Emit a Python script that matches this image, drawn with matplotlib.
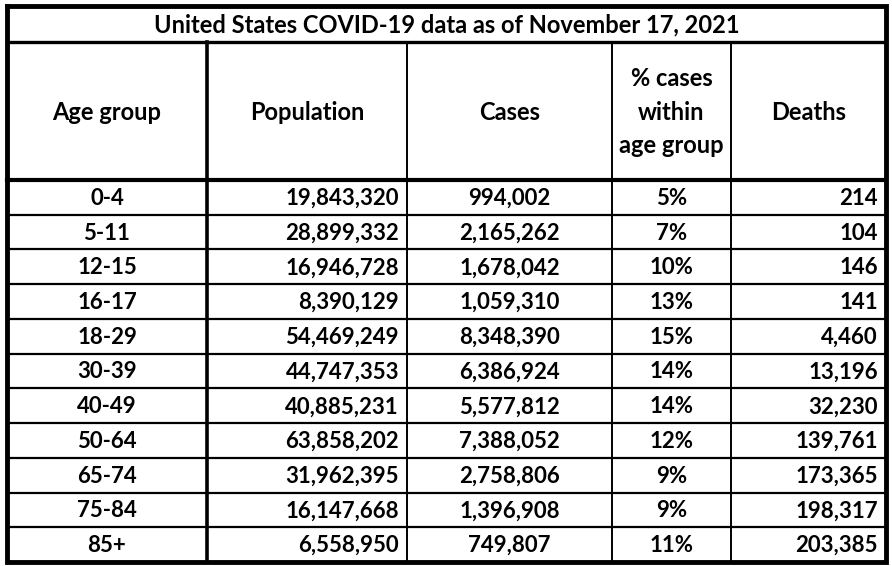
import matplotlib.pyplot as plt

age_groups = ['0-4', '5-11', '12-15', '16-17', '18-29', '30-39', '40-49', '50-64', '65-74', '75-84', '85+']
population = [19843320, 28899332, 16946728, 8390129, 54469249, 44747353, 40885231, 63858202, 31962395, 16147668, 6558950]
cases = [994002, 2165262, 1678042, 1059310, 8348390, 6386924, 5577812, 7388052, 2758806, 1396908, 749807]
pct_cases = [5, 7, 10, 13, 15, 14, 14, 12, 9, 9, 11]
deaths = [214, 104, 146, 141, 4460, 13196, 32230, 139761, 173365, 198317, 203385]
headers = ['Age group', 'Population', 'Cases', '% cases\nwithin\nage group', 'Deaths']
title = 'United States COVID-19 data as of November 17, 2021'

plt.rcParams['font.family'] = ['Lato', 'DejaVu Sans']
fig = plt.figure(figsize=(8.92, 5.66), dpi=100)
ax = fig.add_axes([0, 0, 1, 1])
ax.set_xlim(0, 892)
ax.set_ylim(566, 0)
ax.axis('off')

# geometry in pixels
left, right, top, bottom = 7, 886, 6, 562
title_bot, head_bot = 42, 180
cols = [7, 207, 407, 612, 731, 886]
row_h = (bottom - head_bot) / len(age_groups)

# grid lines
for i in range(1, len(age_groups)):
    y = head_bot + i * row_h
    ax.plot([left, right], [y, y], color='black', lw=1.6)
for i, x in enumerate(cols[1:-1]):
    ax.plot([x, x], [title_bot, bottom], color='black', lw=2.6 if i == 0 else 1.4)
ax.plot([left, right], [title_bot, title_bot], color='black', lw=2.4)
ax.plot([left, right], [head_bot, head_bot], color='black', lw=3)
ax.plot([left, right, right, left, left], [top, top, bottom, bottom, top], color='black', lw=3.5,
        solid_joinstyle='miter')

fs = 16
ax.text((left + right) / 2, (top + title_bot) / 2 + 1, title, ha='center', va='center',
        fontsize=17, weight='bold')
for j, h in enumerate(headers):
    ax.text((cols[j] + cols[j + 1]) / 2, (title_bot + head_bot) / 2 + 1, h, ha='center', va='center',
            fontsize=17, weight='bold', linespacing=1.55)

for i in range(len(age_groups)):
    y = head_bot + (i + 0.5) * row_h + 1
    ax.text((cols[0] + cols[1]) / 2, y, age_groups[i], ha='center', va='center', fontsize=fs, weight='bold')
    ax.text(cols[2] - 8, y, f'{population[i]:,}', ha='right', va='center', fontsize=fs, weight='bold')
    ax.text((cols[2] + cols[3]) / 2, y, f'{cases[i]:,}', ha='center', va='center', fontsize=fs, weight='bold')
    ax.text((cols[3] + cols[4]) / 2, y, f'{pct_cases[i]}%', ha='center', va='center', fontsize=fs, weight='bold')
    ax.text(cols[5] - 8, y, f'{deaths[i]:,}', ha='right', va='center', fontsize=fs, weight='bold')

fig.savefig('out.png', dpi=100, facecolor='white')
